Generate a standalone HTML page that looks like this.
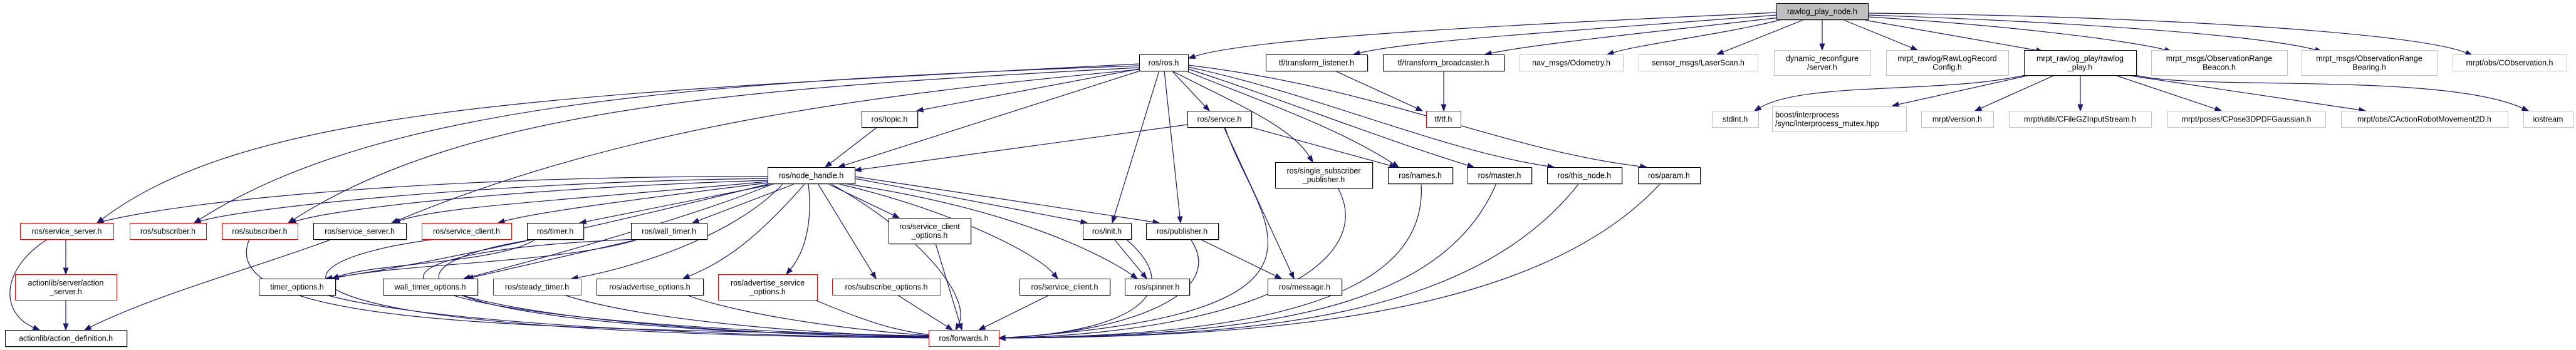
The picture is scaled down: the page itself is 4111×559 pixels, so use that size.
<!DOCTYPE html>
<html><head><meta charset="utf-8"><style>
html,body{margin:0;padding:0;background:#fff;width:4111px;height:559px;overflow:hidden}
svg{display:block}
text{font-family:"Liberation Sans",sans-serif;font-size:12.5px;fill:#000}
</style></head><body>
<svg id="g" width="4111" height="559" xmlns="http://www.w3.org/2000/svg"><g id="e"></g><g id="n"></g></svg>
<script>
var N=[
[2835,5,2981,31,'s',['rawlog_play_node.h']],
[2831,80,2985,120,'g',['dynamic_reconfigure','/server.h']],
[3010,80,3205,120,'g',['mrpt_rawlog/RawLogRecord','Config.h']],
[3230,80,3409,120,'b',['mrpt_rawlog_play/rawlog','_play.h']],
[3433,80,3650,120,'g',['mrpt_msgs/ObservationRange','Beacon.h']],
[3673,80,3889,120,'g',['mrpt_msgs/ObservationRange','Bearing.h']],
[3914,87,4096,113,'g',['mrpt/obs/CObservation.h']],
[2828,170,3042,210,'g',['boost/interprocess','/sync/interprocess_mutex.hpp'],'l'],
[3066,177,3181,203,'g',['mrpt/version.h']],
[3206,177,3433,203,'g',['mrpt/utils/CFileGZInputStream.h']],
[3459,177,3711,203,'g',['mrpt/poses/CPose3DPDFGaussian.h']],
[3736,177,4002,203,'g',['mrpt/obs/CActionRobotMovement2D.h']],
[4027,177,4106,203,'g',['iostream']],
[1818,87,1896,113,'b',['ros/ros.h']],
[2020,87,2182,113,'b',['tf/transform_listener.h']],
[2207,87,2400,113,'b',['tf/transform_broadcaster.h']],
[2425,87,2590,113,'g',['nav_msgs/Odometry.h']],
[2615,87,2805,113,'g',['sensor_msgs/LaserScan.h']],
[2732,177,2806,203,'g',['stdint.h']],
[1375,177,1464,203,'b',['ros/topic.h']],
[1895,177,1997,203,'b',['ros/service.h']],
[2276,177,2331,203,'r',['tf/tf.h']],
[2035,259,2190,300,'b',['ros/single_subscriber','_publisher.h']],
[2215,267,2318,293,'b',['ros/names.h']],
[2342,267,2444,293,'b',['ros/master.h']],
[2469,267,2588,293,'b',['ros/this_node.h']],
[2614,267,2713,293,'b',['ros/param.h']],
[1225,267,1364,293,'b',['ros/node_handle.h']],
[32,356,181,382,'r',['ros/service_server.h']],
[207,356,329,382,'r',['ros/subscriber.h']],
[354,356,475,382,'r',['ros/subscriber.h']],
[500,356,648,382,'b',['ros/service_server.h']],
[673,356,816,382,'r',['ros/service_client.h']],
[841,356,931,382,'b',['ros/timer.h']],
[1007,356,1128,382,'b',['ros/wall_timer.h']],
[1418,348,1549,389,'b',['ros/service_client','_options.h']],
[1728,356,1805,382,'b',['ros/init.h']],
[1829,356,1944,382,'b',['ros/publisher.h']],
[24,438,186,479,'r',['actionlib/server/action','_server.h']],
[413,445,535,471,'b',['timer_options.h']],
[611,445,762,471,'b',['wall_timer_options.h']],
[787,445,927,471,'r',['ros/steady_timer.h']],
[952,445,1122,471,'b',['ros/advertise_options.h']],
[1146,438,1304,479,'r',['ros/advertise_service','_options.h']],
[1328,445,1501,471,'r',['ros/subscribe_options.h']],
[1627,445,1771,471,'b',['ros/service_client.h']],
[1795,445,1898,471,'b',['ros/spinner.h']],
[2023,445,2141,471,'b',['ros/message.h']],
[8,527,202,553,'b',['actionlib/action_definition.h']],
[1482,527,1594,553,'r',['ros/forwards.h']]
];
// edges: x1,y1,x2,y2,[c1x,c1y,c2x,c2y]
var F=[1594,540];
var E=[
[2836,20,1897,93,[2400,40,2000,60]],
[2836,24,2160,87,[2500,50,2250,65]],
[2840,28,2370,87,[2650,50,2450,70]],
[2845,31,2565,87,[2750,55,2620,70]],
[2880,31,2740,87],
[2908,31,2908,80],
[2940,31,3060,80],
[2970,31,3260,82],
[2981,27,3465,82,[3200,40,3400,65]],
[2981,24,3705,82,[3300,35,3600,55]],
[2981,21,3945,88,[3400,25,3850,50]],
[3232,120,2800,177,[3100,150,2880,130]],
[3235,121,3020,169],
[3277,121,3152,177],
[3320,121,3320,177],
[3378,121,3545,177],
[3400,121,3775,177],
[3409,120,4035,177,[3500,145,3900,115]],
[1818,102,155,356,[900,150,400,170]],
[1818,105,310,356,[1100,130,600,170]],
[1818,108,460,356,[1200,140,750,170]],
[1818,111,625,356,[1400,150,1000,200]],
[1818,110,1463,177],
[1820,113,1338,267],
[1870,113,1930,177],
[1850,113,1775,356],
[1858,113,1884,356],
[1870,113,2095,259,[1960,160,2060,200]],
[1892,113,2232,267,[1980,150,2130,200]],
[1896,110,2352,267,[2050,160,2200,220]],
[1896,107,2480,267,[2100,150,2300,240]],
[1896,104,2628,267,[2200,140,2400,240]],
[2130,113,2270,177],
[2304,113,2304,177],
[1400,203,1317,267],
[1895,199,1364,272],
[1995,203,2228,267],
[1953,203,2065,445],
[1955,203,F[0],F[1],[2000,350,2200,500]],
[1225,282,155,356,[700,280,300,320]],
[1225,285,310,356,[800,290,400,330]],
[1225,288,462,356,[850,300,550,330]],
[1225,290,628,356,[900,320,700,330]],
[1225,292,795,356,[1000,320,850,340]],
[1240,293,925,356],
[1270,293,1105,356],
[1230,293,520,445,[1000,350,700,420]],
[1235,293,740,445,[1100,350,800,430]],
[1250,293,912,445,[1170,380,1000,430]],
[1285,293,1090,445,[1200,390,1150,420]],
[1290,293,1255,438,[1300,380,1270,420]],
[1305,293,1398,445],
[1320,293,1435,348],
[1325,293,1525,527,[1480,380,1550,480]],
[1335,293,1688,445,[1500,330,1650,400]],
[1345,293,1815,445,[1600,330,1750,400]],
[1364,285,1735,356],
[1364,282,1850,356],
[105,382,105,438],
[76,382,63,527,[0,430,0,500]],
[105,479,105,527],
[530,382,135,527,[400,430,250,470]],
[398,382,F[0],F[1],[330,540,1000,520]],
[695,382,F[0],F[1],[400,420,350,540]],
[855,382,530,445,[800,420,600,420]],
[855,382,F[0],F[1],[600,420,550,530]],
[1020,382,530,445,[900,420,650,420]],
[1020,382,745,445],
[1020,382,F[0],F[1],[500,400,480,520]],
[520,471,F[0],F[1],[700,520,1200,540]],
[735,471,F[0],F[1],[900,520,1300,540]],
[900,471,F[0],F[1],[1050,520,1400,540]],
[1095,471,F[0],F[1],[1200,510,1450,540]],
[1300,479,F[0],F[1],[1400,520,1450,540]],
[1432,471,1520,527],
[1493,389,1535,527],
[1675,471,1562,527],
[1778,382,1830,445],
[1797,382,F[0],F[1],[1900,470,1800,530]],
[1900,382,F[0],F[1],[1960,470,1800,530]],
[1915,382,2045,445],
[2135,300,F[0],F[1],[2200,420,2000,530]],
[2268,293,F[0],F[1],[2280,480,2000,535]],
[2388,293,F[0],F[1],[2300,500,2000,535]],
[2520,293,F[0],F[1],[2350,510,2000,537]],
[2650,293,F[0],F[1],[2450,510,2000,538]],
[1340,440,F[0],F[1]]
];
E.pop();
var ns='http://www.w3.org/2000/svg';
var ge=document.getElementById('e'),gn=document.getElementById('n');
function el(t,a,p){var o=document.createElementNS(ns,t);for(var k in a)o.setAttribute(k,a[k]);p.appendChild(o);return o;}
E.forEach(function(d){
 var x1=d[0],y1=d[1],x2=d[2],y2=d[3],c;
 if(d[4])c=d[4];else c=[x1+(x2-x1)*0.33,y1+(y2-y1)*0.33,x1+(x2-x1)*0.67,y1+(y2-y1)*0.67];
 var dx=x2-c[2],dy=y2-c[3],L=Math.sqrt(dx*dx+dy*dy)||1;dx/=L;dy/=L;
 var bx=x2-dx*10,by=y2-dy*10;
 el('path',{d:'M'+x1+' '+y1+' C'+c[0]+' '+c[1]+' '+c[2]+' '+c[3]+' '+bx+' '+by,fill:'none',stroke:'#191970','stroke-width':1.2},ge);
 var px=-dy*3.8,py=dx*3.8;
 el('polygon',{points:x2+','+y2+' '+(bx+px)+','+(by+py)+' '+(bx-px)+','+(by-py),fill:'#191970',stroke:'#191970'},ge);
});
N.forEach(function(d){
 var x=d[0],y=d[1],w=d[2]-d[0],h=d[3]-d[1],t=d[4];
 var st={s:'#000',g:'#bfbfbf',b:'#000',r:'#ff0000'}[t];
 if(t=='b'||t=='s')el('rect',{x:x+1.5,y:y+1.5,width:w,height:h,fill:'#888'},gn);
 el('rect',{x:x+0.5,y:y+0.5,width:w,height:h,fill:t=='s'?'#bfbfbf':'#fff',stroke:st,'stroke-width':1},gn);
 var lines=d[5],n=lines.length;
 lines.forEach(function(s,i){
  var ty=y+h/2+(i-(n-1)/2)*14+4.5;
  var a=d[6]=='l'?{x:x+5,y:ty}:{x:x+w/2,y:ty,'text-anchor':'middle'};
  var tx=el('text',a,gn);tx.textContent=s;
  var len=tx.getComputedTextLength(),mx=w-10;
  if(len>mx){tx.setAttribute('textLength',mx);tx.setAttribute('lengthAdjust','spacingAndGlyphs');}
 });
});
</script>
</body></html>
